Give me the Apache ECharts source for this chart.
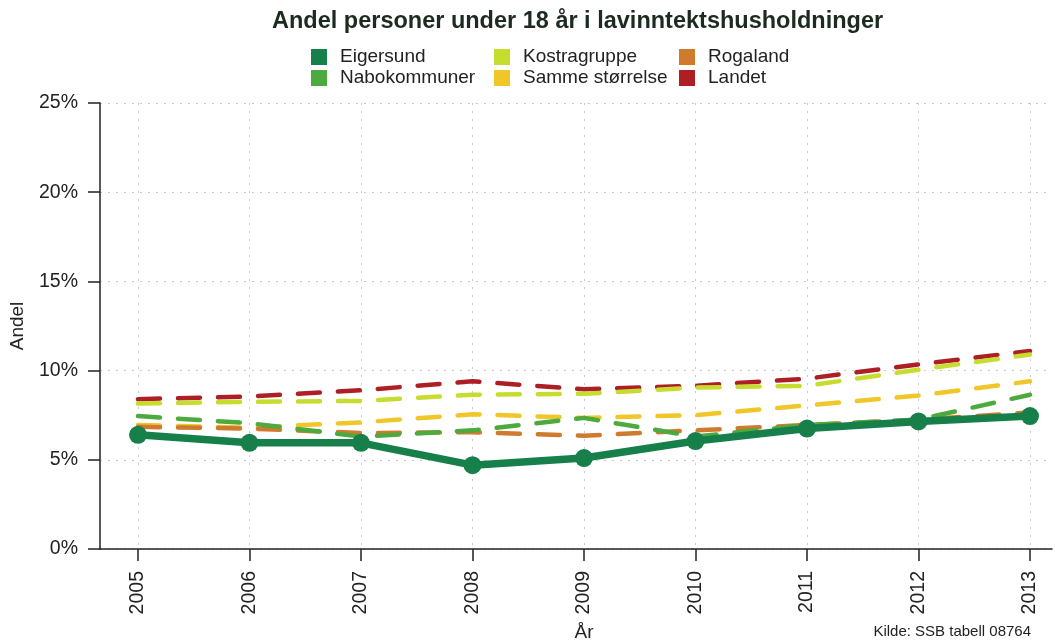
<!DOCTYPE html>
<html>
<head>
<meta charset="utf-8">
<script src="https://cdn.jsdelivr.net/npm/echarts@6/dist/echarts.min.js"></script>
<style>
  html, body { margin: 0; padding: 0; background: #fff; }
  #chart { width: 1055px; height: 641px; }
</style>
</head>
<body>
<div id="chart"></div>
<script>
// Data (percent)
const years = ['2005', '2006', '2007', '2008', '2009', '2010', '2011', '2012', '2013'];
const eigersund = [6.4, 5.95, 5.95, 4.7, 5.1, 6.05, 6.75, 7.15, 7.45];
const nabokommuner = [7.45, 7.05, 6.3, 6.65, 7.35, 6.3, 6.95, 7.25, 8.65];
const kostragruppe = [8.15, 8.25, 8.3, 8.65, 8.7, 9.05, 9.15, 10.05, 10.9];
const sammeStorrelse = [6.95, 6.8, 7.1, 7.55, 7.35, 7.5, 8.05, 8.6, 9.4];
const rogaland = [6.85, 6.75, 6.5, 6.55, 6.35, 6.65, 6.95, 7.25, 7.65];
const landet = [8.4, 8.55, 8.9, 9.4, 8.95, 9.15, 9.55, 10.35, 11.1];
const yTicks = [0, 5, 10, 15, 20, 25];

const colors = {
    Eigersund: '#17804a',
    Nabokommuner: '#4caa3e',
    Kostragruppe: '#c6dc2e',
    'Samme størrelse': '#f0c629',
    Rogaland: '#cf7a2e',
    Landet: '#ad1f24'
};

const chart = echarts.init(document.getElementById('chart'));
const font = 'Liberation Sans, Arial, sans-serif';

function dashed(name, data) {
    return {
        name: name,
        type: 'line',
        xAxisIndex: 1,
        yAxisIndex: 1,
        data: data,
        symbol: 'none',
        color: colors[name],
        lineStyle: { color: colors[name], width: 4.5, type: [22, 18], cap: 'round' },
        z: 2
    };
}

function legendCol(left, names) {
    return {
        orient: 'vertical',
        left: left,
        top: 47,
        padding: 0,
        icon: 'rect',
        itemWidth: 16,
        itemHeight: 16,
        itemGap: 1,
        data: names,
        textStyle: { fontSize: 19, lineHeight: 20, color: '#222', fontFamily: font, padding: [0, 0, 0, 8] },
        selectedMode: false
    };
}

const option = {
    backgroundColor: '#fff',
    animation: false,
    textStyle: { fontFamily: font },
    title: {
        text: 'Andel personer under 18 år i lavinntektshusholdninger',
        left: 272,
        top: 10,
        padding: 0,
        textStyle: { fontSize: 23.5, fontWeight: 'bold', color: '#1c2a1f', fontFamily: font }
    },
    legend: [
        legendCol(311, ['Eigersund', 'Nabokommuner']),
        legendCol(494, ['Kostragruppe', 'Samme størrelse']),
        legendCol(679, ['Rogaland', 'Landet'])
    ],
    grid: [
        { left: 100, right: 3, top: 103, bottom: 92, outerBoundsMode: 'none' },
        { left: 138, right: 25, top: 103, bottom: 92, outerBoundsMode: 'none' }
    ],
    xAxis: [
        {
            gridIndex: 0,
            type: 'value',
            min: 0,
            max: 1,
            axisLine: { show: true, lineStyle: { color: '#222', width: 1.5 } },
            axisTick: { show: false },
            axisLabel: { show: false },
            splitLine: { show: false }
        },
        {
            gridIndex: 1,
            type: 'category',
            data: years,
            boundaryGap: false,
            name: 'År',
            nameLocation: 'middle',
            nameGap: 74,
            nameTextStyle: { fontSize: 19, color: '#222', fontFamily: font },
            axisLine: { show: false },
            axisTick: { show: true, alignWithLabel: true, length: 12, lineStyle: { color: '#222', width: 1.5 } },
            axisLabel: { rotate: 90, fontSize: 19.5, color: '#222', margin: 22, fontFamily: font },
            splitLine: { show: true, lineStyle: { color: '#c8c8c8', type: [2, 6], width: 1 } }
        }
    ],
    yAxis: [
        {
            gridIndex: 0,
            type: 'value',
            min: 0,
            max: 25,
            interval: 5,
            name: 'Andel',
            nameLocation: 'middle',
            nameRotate: 90,
            nameGap: 73,
            nameTextStyle: { fontSize: 19, color: '#222', fontFamily: font },
            axisLine: { show: true, lineStyle: { color: '#222', width: 1.5 } },
            axisTick: { show: true, length: 12, lineStyle: { color: '#222', width: 1.5 } },
            axisLabel: {
                fontSize: 19.5,
                color: '#222',
                margin: 22,
                fontFamily: font,
                formatter: v => yTicks.indexOf(v) >= 0 ? v + '%' : ''
            },
            splitLine: { show: true, lineStyle: { color: '#c8c8c8', type: [2, 6], width: 1 } }
        },
        {
            gridIndex: 1,
            type: 'value',
            min: 0,
            max: 25,
            interval: 5,
            show: false
        }
    ],
    series: [
        dashed('Landet', landet),
        dashed('Kostragruppe', kostragruppe),
        dashed('Samme størrelse', sammeStorrelse),
        dashed('Rogaland', rogaland),
        dashed('Nabokommuner', nabokommuner),
        {
            name: 'Eigersund',
            type: 'line',
            xAxisIndex: 1,
            yAxisIndex: 1,
            data: eigersund,
            symbol: 'circle',
            symbolSize: 18,
            color: colors.Eigersund,
            itemStyle: { color: colors.Eigersund },
            lineStyle: { color: colors.Eigersund, width: 7.5 },
            z: 5
        }
    ],
    graphic: [
        {
            type: 'text',
            right: 24,
            bottom: 2,
            style: { text: 'Kilde: SSB tabell 08764', fontSize: 15, fill: '#222', fontFamily: font }
        }
    ]
};

chart.setOption(option);
</script>
</body>
</html>
